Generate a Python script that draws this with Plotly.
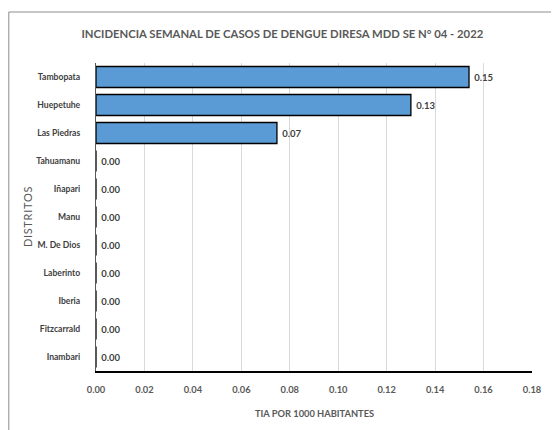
import plotly.graph_objects as go

# Data
distritos = ["Tambopata", "Huepetuhe", "Las Piedras", "Tahuamanu", "Iñapari",
             "Manu", "M. De Dios", "Laberinto", "Iberia", "Fitzcarrald", "Inambari"]
tia = [0.154, 0.130, 0.0747, 0, 0, 0, 0, 0, 0, 0, 0]
x_ticks = [0.00, 0.02, 0.04, 0.06, 0.08, 0.10, 0.12, 0.14, 0.16, 0.18]

FONT = "Lato, Liberation Sans, sans-serif"

fig = go.Figure()

fig.add_trace(go.Bar(
    x=tia,
    y=distritos,
    orientation="h",
    marker=dict(color="#5B9BD5", line=dict(color="black", width=1.3)),
    text=["\u00a0" + f"{v:.2f}" for v in tia],
    textposition="outside",
    textfont=dict(family=FONT, size=9.5, color="#404040", weight="bold"),
    cliponaxis=False,
))

# outer frame (page body has an 8px margin, so the figure is 551x422)
fig.add_shape(type="rect", xref="paper", yref="paper",
              x0=-0.2, x1=1.0459, y0=-0.25, y1=1.1656,
              line=dict(color="#8c8c8c", width=1), layer="below")

# axis titles
fig.add_annotation(text="\u200a".join("DISTRITOS"), xref="paper", yref="paper",
                   x=-0.158, y=0.5, xanchor="center", yanchor="middle",
                   textangle=-90, showarrow=False,
                   font=dict(family=FONT, size=11, color="#595959"))
fig.add_annotation(text="<b>TIA POR 1000 HABITANTES</b>", xref="paper", yref="paper",
                   x=0.5, y=-0.1364, xanchor="center", yanchor="middle", showarrow=False,
                   font=dict(family=FONT, size=9.3, color="#595959"))

fig.update_layout(
    width=551, height=422,
    margin=dict(l=88, r=27, t=55, b=59, autoexpand=False),
    paper_bgcolor="white",
    plot_bgcolor="white",
    bargap=0.25,
    showlegend=False,
    font=dict(family=FONT, color="#595959"),
    title=dict(
        text="<b>INCIDENCIA SEMANAL DE CASOS DE DENGUE DIRESA MDD SE N° 04 - 2022</b>",
        x=0.498, xref="container", xanchor="center",
        y=0.938, yref="container", yanchor="middle",
        font=dict(family=FONT, size=11.3, color="#595959"),
    ),
    xaxis=dict(
        range=[0, 0.18],
        tickvals=x_ticks,
        tickformat=".2f",
        automargin=False,
        showgrid=True, gridcolor="#d9d9d9", gridwidth=1,
        zeroline=False,
        showline=True, linecolor="black", linewidth=1.5,
        ticks="", ticklabelstandoff=9,
        tickfont=dict(family=FONT, size=9.3, color="#595959", weight="bold"),
    ),
    yaxis=dict(
        autorange="reversed",
        automargin=False,
        showgrid=False,
        showline=True, linecolor="#595959", linewidth=1.2,
        ticks="", ticklabelstandoff=13,
        tickfont=dict(family=FONT, size=8.6, color="#404040", weight="bold"),
    ),
)

fig.write_html("out.html")
